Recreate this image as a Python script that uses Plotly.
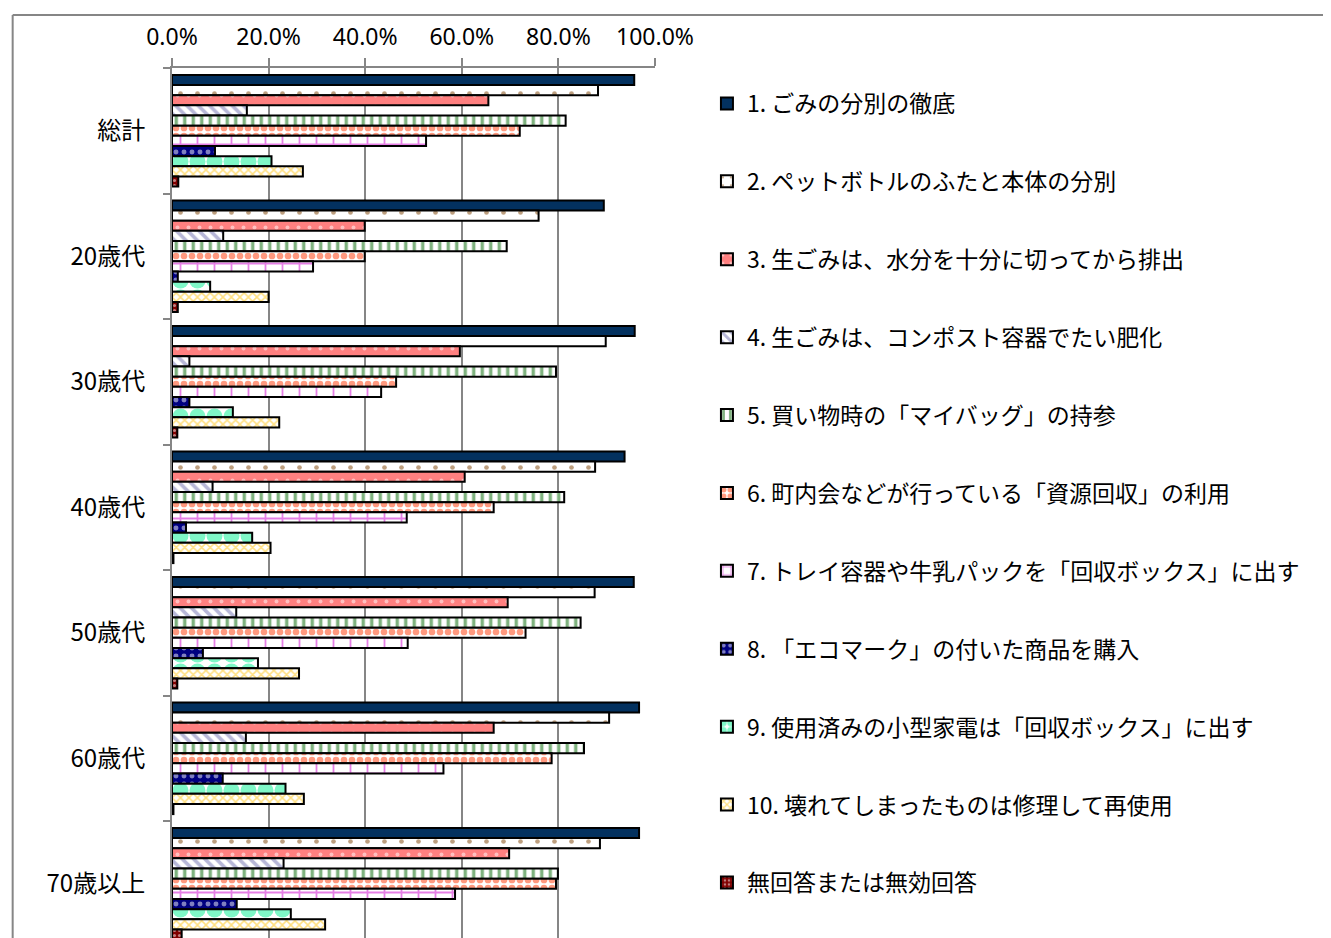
import plotly.graph_objects as go

categories = ["総計", "20歳代", "30歳代", "40歳代", "50歳代", "60歳代", "70歳以上"]

series_names = [
    "1. ごみの分別の徹底",
    "2. ペットボトルのふたと本体の分別",
    "3. 生ごみは、水分を十分に切ってから排出",
    "4. 生ごみは、コンポスト容器でたい肥化",
    "5. 買い物時の「マイバッグ」の持参",
    "6. 町内会などが行っている「資源回収」の利用",
    "7. トレイ容器や牛乳パックを「回収ボックス」に出す",
    "8. 「エコマーク」の付いた商品を購入",
    "9. 使用済みの小型家電は「回収ボックス」に出す",
    "10. 壊れてしまったものは修理して再使用",
    "無回答または無効回答",
]

s1 = [95.7, 89.4, 95.8, 93.7, 95.6, 96.7, 96.7]
s2 = [88.2, 75.9, 89.8, 87.6, 87.5, 90.5, 88.6]
s3 = [65.5, 39.9, 59.6, 60.6, 69.5, 66.6, 69.8]
s4 = [15.5, 10.6, 3.6, 8.4, 13.3, 15.3, 23.1]
s5 = [81.5, 69.3, 79.5, 81.2, 84.6, 85.3, 79.9]
s6 = [72.0, 39.9, 46.4, 66.6, 73.2, 78.6, 79.5]
s7 = [52.6, 29.2, 43.3, 48.6, 48.8, 56.2, 58.6]
s8 = [8.9, 1.2, 3.6, 2.9, 6.4, 10.5, 13.4]
s9 = [20.6, 7.9, 12.6, 16.6, 17.8, 23.5, 24.6]
s10 = [27.1, 20.0, 22.2, 20.4, 26.3, 27.3, 31.7]
s_na = [1.3, 1.2, 1.1, 0.3, 1.1, 0.3, 2.0]

all_series = [s1, s2, s3, s4, s5, s6, s7, s8, s9, s10, s_na]

x_tickvals = [0, 20, 40, 60, 80, 100]
x_ticktext = ["0.0%", "20.0%", "40.0%", "60.0%", "80.0%", "100.0%"]

styles = [
    dict(color="#03315F", pattern=dict(shape="")),
    dict(color="white", pattern=dict(shape=".", fgcolor="#7B3F00", bgcolor="white", size=17, solidity=0.06)),
    dict(color="#FF8080", pattern=dict(shape=".", fgcolor="white", bgcolor="#FF8080", size=11, solidity=0.1)),
    dict(color="white", pattern=dict(shape="\\", fgcolor="#6F6FB0", bgcolor="white", size=8, solidity=0.45)),
    dict(color="white", pattern=dict(shape="|", fgcolor="#006600", bgcolor="white", size=8.5, solidity=0.4)),
    dict(color="white", pattern=dict(shape=".", fgcolor="#FF3300", bgcolor="white", size=8, solidity=0.55)),
    dict(color="white", pattern=dict(shape="+", fgcolor="#CC00CC", bgcolor="white", size=17, solidity=0.2)),
    dict(color="#000080", pattern=dict(shape=".", fgcolor="white", bgcolor="#000080", size=8, solidity=0.3)),
    dict(color="white", pattern=dict(shape=".", fgcolor="#00F090", bgcolor="white", size=17, solidity=0.7)),
    dict(color="white", pattern=dict(shape="x", fgcolor="#FFC000", bgcolor="white", size=6, solidity=0.45)),
    dict(color="#800000", pattern=dict(shape=".", fgcolor="white", bgcolor="#800000", size=5, solidity=0.3)),
]

fig = go.Figure()
for i, (name, vals, st) in enumerate(zip(series_names, all_series, styles)):
    fig.add_trace(go.Bar(
        y=categories, x=vals, name=name, orientation="h",
        legendgroup=f"g{i}",
        marker=dict(color=st["color"], pattern=st["pattern"],
                    line=dict(color="black", width=2)),
    ))

# page has an 8px body margin; figure coordinates = page coordinates - 8
OFF = 8
W, H = 1331 - OFF, 938 - OFF
L, R_px, T = 171.5 - OFF, 655.0 - OFF, 68.0 - OFF
plot_w = R_px - L
plot_h = H - T

def px_to_paper_x(page_px):
    return (page_px - OFF - L) / plot_w

def px_to_paper_y(page_py):
    return 1 - (page_py - OFF - T) / plot_h

band = 125.5
y_bottom_val = -0.5 + plot_h / band

grid_col = "#868686"

fig.update_layout(
    width=W, height=H,
    margin=dict(l=L, r=W - R_px, t=T, b=0, autoexpand=False),
    barmode="group", bargap=0.11, bargroupgap=0,
    plot_bgcolor="white", paper_bgcolor="white",
    font=dict(family="Noto Sans CJK JP", size=23, color="black"),
    showlegend=True,
    legend=dict(
        x=px_to_paper_x(707), xanchor="left",
        y=px_to_paper_y(82), yanchor="top",
        traceorder="grouped", tracegroupgap=45,
        font=dict(family="Noto Sans CJK JP", size=23, color="black"),
        bgcolor="rgba(0,0,0,0)",
    ),
    xaxis=dict(
        side="top", range=[0, 100], tickvals=x_tickvals, ticktext=x_ticktext,
        showgrid=True, gridcolor=grid_col, gridwidth=2,
        showline=True, linecolor=grid_col, linewidth=2,
        ticks="outside", ticklen=8, tickwidth=2, tickcolor=grid_col,
        tickfont=dict(family="Noto Sans", size=23, color="black"),
        ticklabelstandoff=4, zeroline=False,
    ),
    yaxis=dict(
        range=[y_bottom_val, -0.5], type="category",
        showline=True, linecolor=grid_col, linewidth=2,
        ticks="outside", tickson="boundaries", ticklen=7, tickwidth=2, tickcolor=grid_col,
        showgrid=False,
        tickfont=dict(family="Noto Sans CJK JP", size=24, color="black"),
        ticklabelstandoff=20,
    ),
    shapes=[
        dict(type="line", xref="paper", yref="paper",
             x0=px_to_paper_x(12), x1=px_to_paper_x(1340),
             y0=px_to_paper_y(15), y1=px_to_paper_y(15),
             line=dict(color=grid_col, width=2)),
        dict(type="line", xref="paper", yref="paper",
             x0=px_to_paper_x(12), x1=px_to_paper_x(12),
             y0=px_to_paper_y(15), y1=px_to_paper_y(950),
             line=dict(color=grid_col, width=2)),
    ],
)

fig.write_html("out.html")
